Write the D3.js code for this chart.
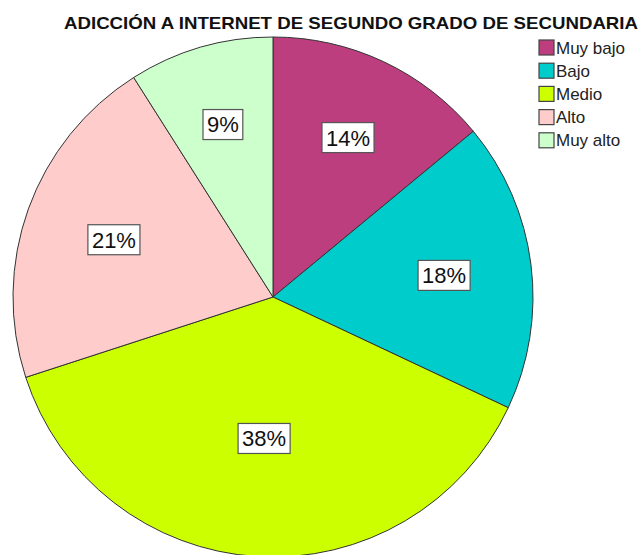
<!DOCTYPE html>
<html>
<head>
<meta charset="utf-8">
<script src="https://cdn.jsdelivr.net/npm/d3@7"></script>
<style>
  body{margin:0;background:#fff;}
  svg{display:block;font-family:"Liberation Sans",Arial,sans-serif;}
</style>
</head>
<body>
<svg id="chart" width="640" height="555"></svg>
<script>
// datos del grafico
var categorias=["Muy bajo","Bajo","Medio","Alto","Muy alto"];
var porcentajes=[14,18,38,21,9];
var colores=["#bd3e7e","#00cccc","#ccff00","#ffcccc","#ccffcc"];
var titulo="ADICCIÓN A INTERNET DE SEGUNDO GRADO DE SECUNDARIA";

var WIDTH=640, HEIGHT=555;
var R=260, CX=273, CY=297;

var svg=d3.select("#chart");

svg.append("text")
  .attr("x",351).attr("y",29)
  .attr("text-anchor","middle")
  .attr("font-size",17).attr("font-weight","bold")
  .attr("textLength",574).attr("lengthAdjust","spacingAndGlyphs")
  .attr("fill","#111")
  .text(titulo);

var datos=categorias.map(function(c,i){return {cat:c,val:porcentajes[i],color:colores[i]};});

var pie=d3.pie().sort(null).value(function(d){return d.val;});
var arc=d3.arc().innerRadius(0).outerRadius(R);
var arcs=pie(datos);

var g=svg.append("g").attr("transform","translate("+CX+","+CY+")");

g.selectAll("path").data(arcs).enter().append("path")
  .attr("d",arc)
  .attr("fill",function(d){return d.data.color;})
  .attr("stroke","#333").attr("stroke-width",1);

// etiqueta cerca del centroide del sector
function centroide(d){
  var a=(d.endAngle-d.startAngle)/2;
  var m=(d.startAngle+d.endAngle)/2;
  var r=1.05*2*R*Math.sin(a)/(3*a);
  return [r*Math.sin(m),-r*Math.cos(m)];
}

var etiquetas=g.selectAll("g.lab").data(arcs).enter().append("g")
  .attr("class","lab")
  .attr("transform",function(d){var c=centroide(d);return "translate("+c[0]+","+c[1]+")";});

etiquetas.append("text")
  .attr("text-anchor","middle")
  .attr("dy","0.36em")
  .attr("font-size",22)
  .attr("fill","#111")
  .text(function(d){return d.data.val+"%";})
  .each(function(){
    var b=this.getBBox();
    d3.select(this.parentNode).insert("rect","text")
      .attr("x",b.x-4).attr("y",-15)
      .attr("width",b.width+8).attr("height",30)
      .attr("fill","#fff").attr("stroke","#555").attr("stroke-width",1.2);
  });

// leyenda
var leyenda=svg.append("g").attr("transform","translate(539,40)");
var filas=leyenda.selectAll("g").data(datos).enter().append("g")
  .attr("transform",function(d,i){return "translate(0,"+(i*23.2)+")";});
filas.append("rect")
  .attr("width",15).attr("height",15)
  .attr("fill",function(d){return d.color;})
  .attr("stroke","#444").attr("stroke-width",1.2);
filas.append("text")
  .attr("x",17).attr("y",13.5)
  .attr("font-size",17).attr("fill","#222")
  .text(function(d){return d.cat;});
</script>
</body>
</html>
